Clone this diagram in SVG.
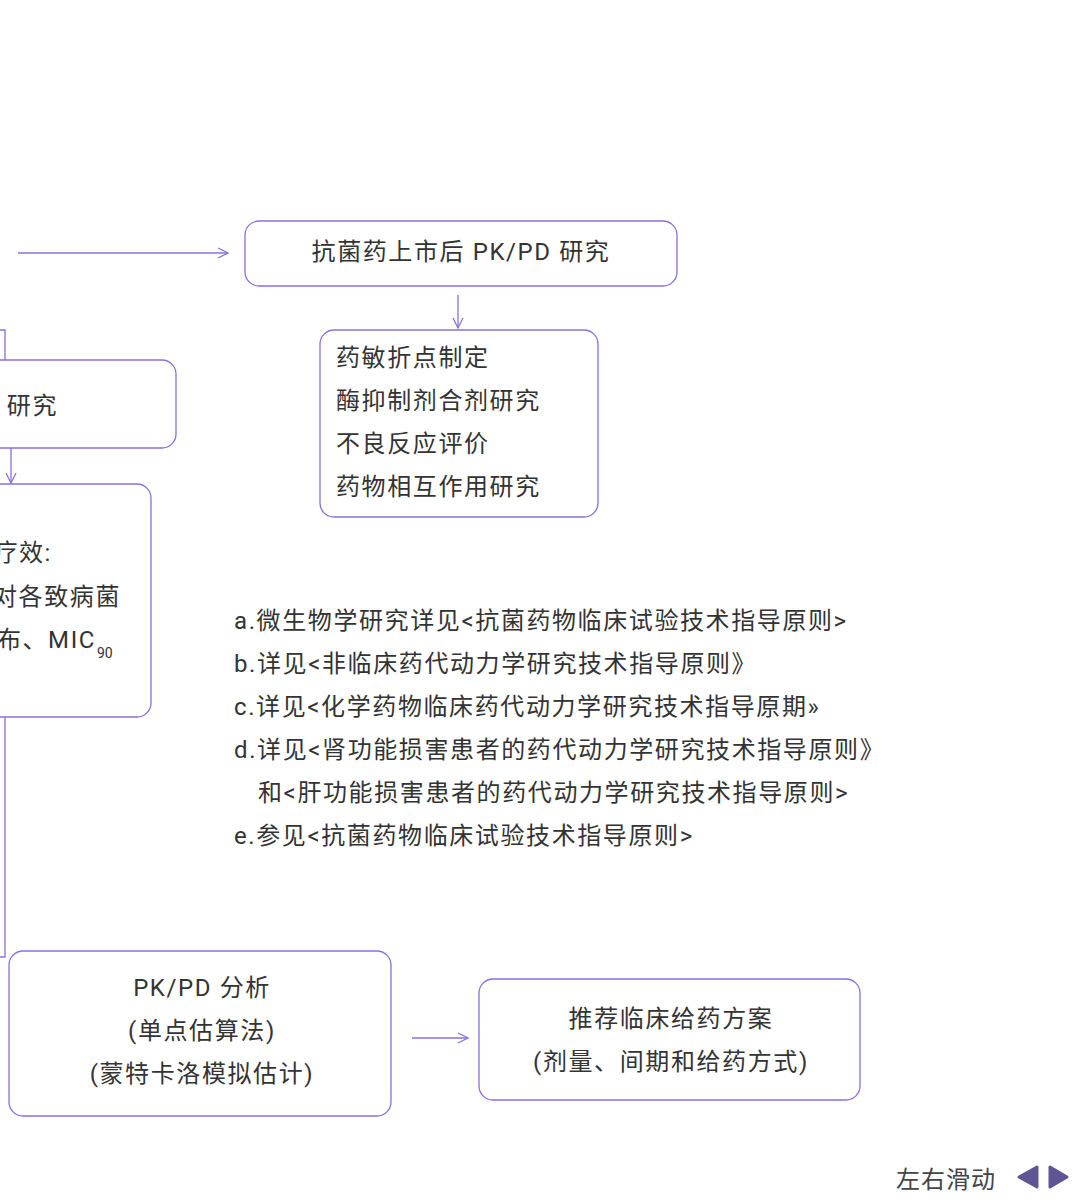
<svg xmlns="http://www.w3.org/2000/svg" width="1080" height="1200" viewBox="0 0 1080 1200">
<style>
.b{fill:#fff;stroke:#8a6fdf;stroke-width:1.3}
.t{font-family:Roboto,"Noto Sans CJK SC",sans-serif;font-size:24px;fill:#333;letter-spacing:1.6px}
.e{fill:none;stroke:#8a6fdf;stroke-width:1.3}
</style>
<defs><marker id="a" markerWidth="12" markerHeight="12" refX="11" refY="6" orient="auto" markerUnits="userSpaceOnUse"><path d="M1,1 L11,6 L1,11" fill="none" stroke="#8a6fdf" stroke-width="1.3"/></marker></defs>
<rect width="1080" height="1200" fill="#fff"/>
<g id="edges">
<line class="e" x1="18" y1="253" x2="228" y2="253" marker-end="url(#a)"/>
<line class="e" x1="458" y1="295" x2="458" y2="328" marker-end="url(#a)"/>
<line class="e" x1="11" y1="448" x2="11" y2="483" marker-end="url(#a)"/>
<line class="e" x1="412" y1="1038" x2="468" y2="1038" marker-end="url(#a)"/>
<path class="e" d="M0,330 H5 V360"/>
<path class="e" d="M5,717 V957 H0"/>
</g>
<g id="n1"><rect class="b" x="245" y="221" width="432" height="65" rx="14"/><text class="t" x="461" y="260" text-anchor="middle">抗菌药上市后 PK/PD 研究</text></g>
<g id="n2"><rect class="b" x="320" y="330" width="278" height="187" rx="14"/>
<text class="t" x="336" y="366">药敏折点制定</text><text class="t" x="336" y="409">酶抑制剂合剂研究</text><text class="t" x="336" y="452">不良反应评价</text><text class="t" x="336" y="495">药物相互作用研究</text></g>
<g id="n3"><rect class="b" x="-30" y="360" width="206" height="88" rx="14"/><text class="t" x="58" y="414" text-anchor="end">PK/PD 研究</text></g>
<g id="n4"><rect class="b" x="-30" y="484" width="181" height="233" rx="14"/>
<text class="t" x="52" y="561" text-anchor="end">治疗效:</text>
<text class="t" x="121" y="605" text-anchor="end">药物对各致病菌</text>
<text class="t" x="96" y="648" text-anchor="end">分布、MIC</text><text class="t" x="97" y="658" style="font-size:14px;letter-spacing:0">90</text></g>
<g id="notes" class="t">
<text x="234" y="629">a.微生物学研究详见&lt;抗菌药物临床试验技术指导原则&gt;</text>
<text x="234" y="672">b.详见&lt;非临床药代动力学研究技术指导原则》</text>
<text x="234" y="715">c.详见&lt;化学药物临床药代动力学研究技术指导原期»</text>
<text x="234" y="758">d.详见&lt;肾功能损害患者的药代动力学研究技术指导原则》</text>
<text x="258" y="801">和&lt;肝功能损害患者的药代动力学研究技术指导原则&gt;</text>
<text x="234" y="844">e.参见&lt;抗菌药物临床试验技术指导原则&gt;</text>
</g>
<g id="n5"><rect class="b" x="9" y="951" width="382" height="165" rx="14"/>
<text class="t" x="202" y="996" text-anchor="middle">PK/PD 分析</text><text class="t" x="202" y="1039" text-anchor="middle">(单点估算法)</text><text class="t" x="202" y="1082" text-anchor="middle">(蒙特卡洛模拟估计)</text></g>
<g id="n6"><rect class="b" x="479" y="979" width="381" height="121" rx="14"/>
<text class="t" x="671" y="1027" text-anchor="middle">推荐临床给药方案</text><text class="t" x="671" y="1070" text-anchor="middle">(剂量、间期和给药方式)</text></g>
<g id="nav"><text x="896" y="1188" style="font-family:Roboto,'Noto Sans CJK SC',sans-serif;font-size:24px;fill:#444;letter-spacing:1px">左右滑动</text>
<path d="M1037,1167 L1037,1187 L1019,1177 Z" fill="#5f5594" stroke="#5f5594" stroke-width="3" stroke-linejoin="round"/>
<path d="M1050,1167 L1050,1187 L1067,1177 Z" fill="#5f5594" stroke="#5f5594" stroke-width="3" stroke-linejoin="round"/></g>
</svg>
